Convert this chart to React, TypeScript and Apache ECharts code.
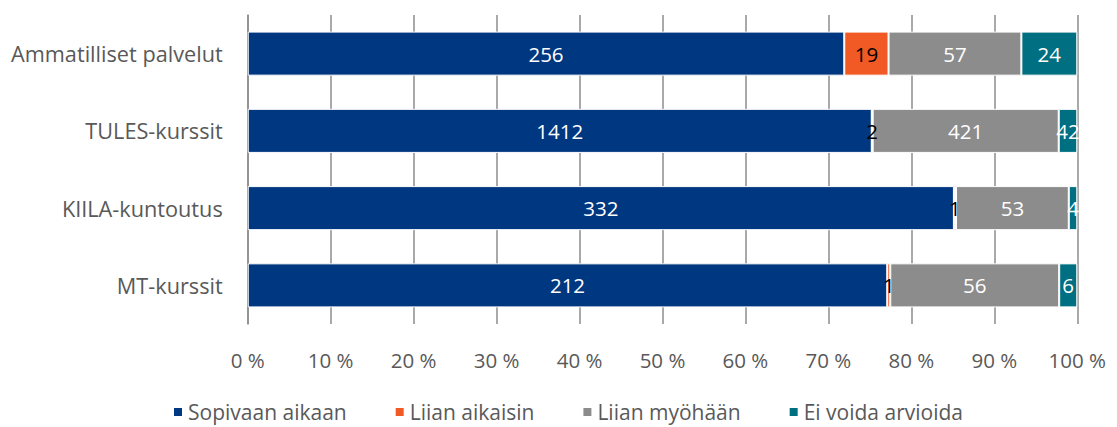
import React, { useEffect, useRef } from "react";
import * as echarts from "echarts";

const categories = ["Ammatilliset palvelut", "TULES-kurssit", "KIILA-kuntoutus", "MT-kurssit"];
const seriesNames = ["Sopivaan aikaan", "Liian aikaisin", "Liian myöhään", "Ei voida arvioida"];
const sopivaan = [256, 1412, 332, 212];
const aikaisin = [19, 2, 1, 1];
const myohaan = [57, 421, 53, 56];
const eiVoida = [24, 42, 4, 6];
const colors = ["#003781", "#f15a24", "#8c8c8d", "#006f81"];
const labelColors = ["#ffffff", "#000000", "#ffffff", "#ffffff"];

export default function App() {
  const ref = useRef<HTMLDivElement>(null);
  useEffect(() => {
    if (!ref.current) return;
    const chart = echarts.init(ref.current, null, { renderer: "svg" });
    const raw = [sopivaan, aikaisin, myohaan, eiVoida];
    const totals = categories.map((_, i) => raw.reduce((s, arr) => s + arr[i], 0));
    const font = "'Open Sans', sans-serif";
    chart.setOption({
      animation: false,
      textStyle: { fontFamily: font },
      color: colors,
      grid: { left: 239, right: 26, top: 7, bottom: 103, containLabel: false },
      legend: {
        top: 393,
        left: 164,
        padding: 0,
        icon: "rect",
        itemWidth: 10,
        itemHeight: 10,
        itemGap: 47,
        textStyle: { color: "#595959", fontSize: 21, lineHeight: 22, fontFamily: font },
        data: seriesNames,
      },
      xAxis: {
        type: "value",
        min: 0,
        max: 100,
        interval: 10,
        axisLine: { show: false },
        axisTick: { show: false },
        axisLabel: { formatter: "{value} %", color: "#595959", fontSize: 20.5, margin: 25 },
        splitLine: { show: true, lineStyle: { color: "#8c8c8c", width: 1.5 } },
      },
      yAxis: {
        type: "category",
        data: categories,
        inverse: true,
        axisLine: { show: true, lineStyle: { color: "#8c8c8c", width: 1.5 } },
        axisTick: { show: false },
        axisLabel: { color: "#595959", fontSize: 21.7, margin: 25 },
      },
      series: seriesNames.map((name, si) => ({
        name,
        type: "bar",
        stack: "total",
        barCategoryGap: "43%",
        itemStyle: { color: colors[si], borderColor: "#ffffff", borderWidth: 1 },
        label: {
          show: true,
          position: "inside",
          color: labelColors[si],
          fontSize: 20.5,
          fontFamily: font,
          formatter: (p: any) => String(raw[si][p.dataIndex]),
        },
        data: raw[si].map((v, i) => (v / totals[i]) * 100),
      })),
    });
    return () => chart.dispose();
  }, []);
  return <div ref={ref} style={{ width: 1101, height: 419 }} />;
}
